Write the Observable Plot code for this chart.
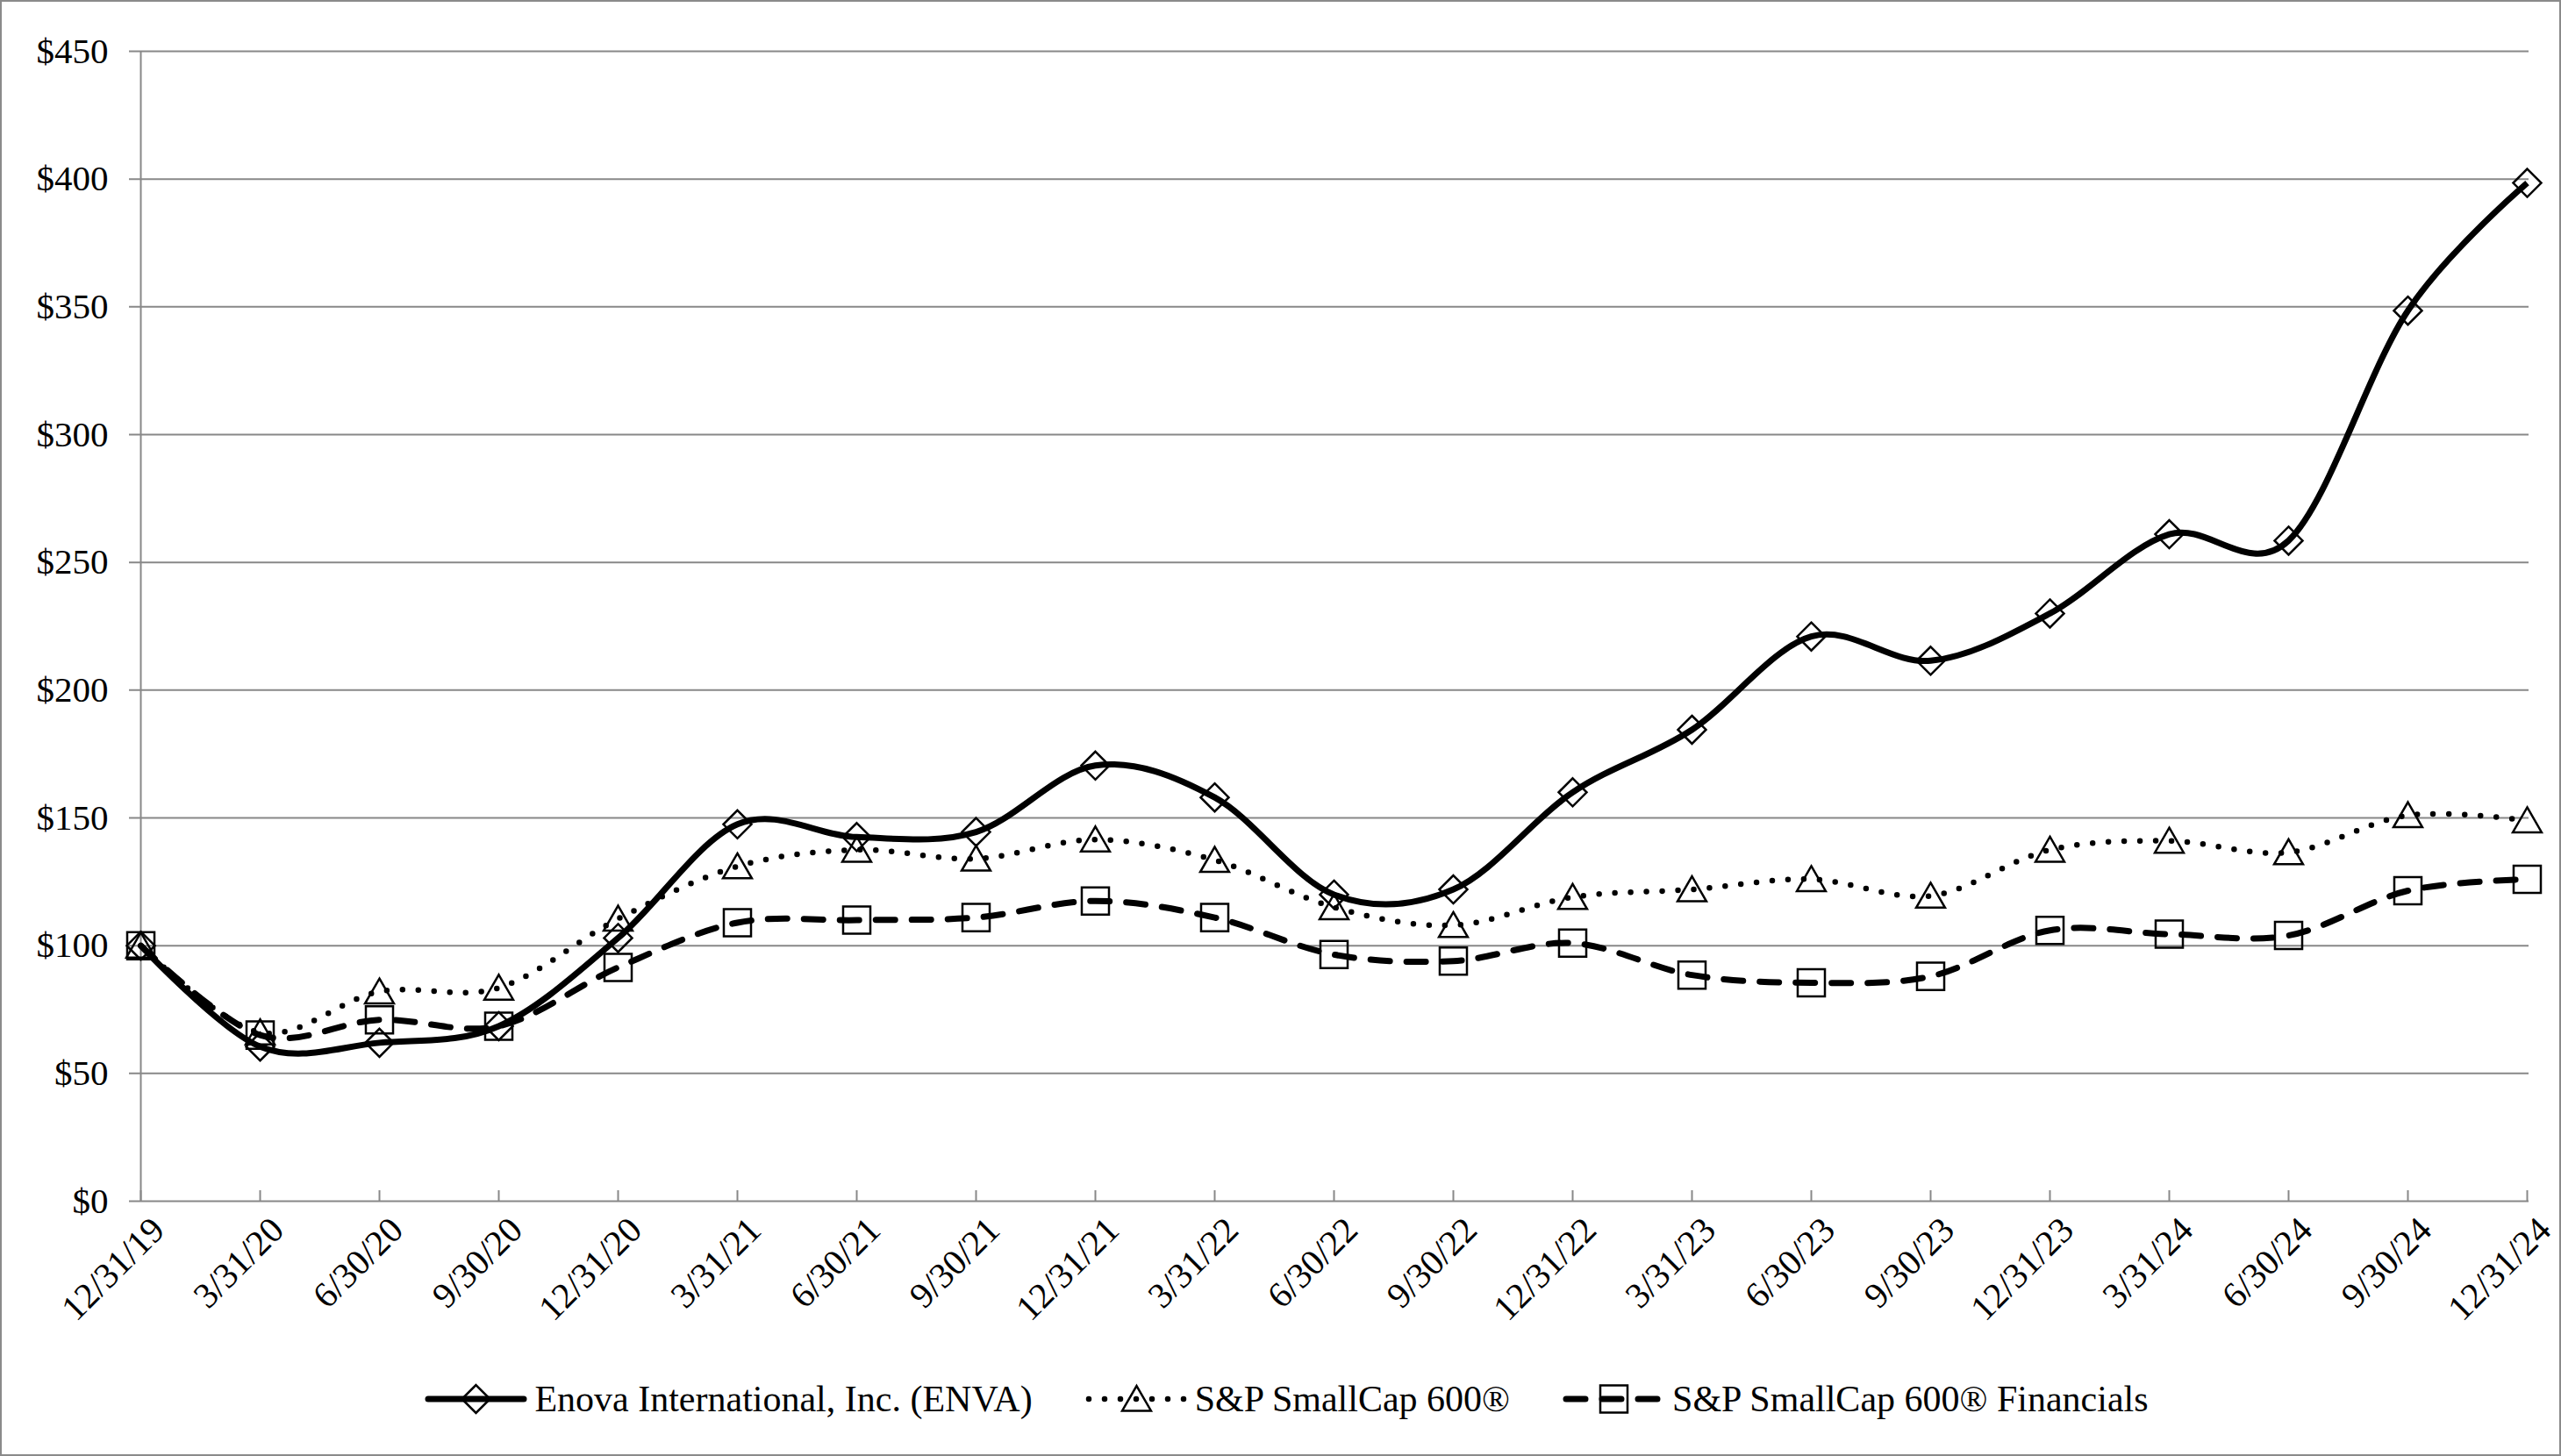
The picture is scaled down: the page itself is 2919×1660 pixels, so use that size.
<!DOCTYPE html>
<html><head><meta charset="utf-8">
<script src="https://cdn.jsdelivr.net/npm/d3@7"></script>
<script src="https://cdn.jsdelivr.net/npm/@observablehq/plot@0.6"></script>
<style>
body{margin:0;background:#fff;}
#wrap{position:relative;width:2919px;height:1660px;box-sizing:border-box;border:2px solid #8a8a8a;background:#fff;font-family:"Liberation Serif","Times New Roman",serif;overflow:hidden;}
#chart{position:absolute;left:0;top:0;}
#legend{position:absolute;left:14px;right:0;top:1563px;height:60px;display:flex;justify-content:center;align-items:center;font-size:42px;color:#000;white-space:nowrap;}
.item{display:flex;align-items:center;}
.item span{margin-left:8px;}
.item + .item{margin-left:60px;}
</style></head><body>
<div id="wrap"><div id="chart"></div><div id="legend"></div></div>
<script>
const dates = ["12/31/19","3/31/20","6/30/20","9/30/20","12/31/20","3/31/21","6/30/21","9/30/21","12/31/21","3/31/22","6/30/22","9/30/22","12/31/22","3/31/23","6/30/23","9/30/23","12/31/23","3/31/24","6/30/24","9/30/24","12/31/24"];
const enova = [100, 60.5, 62, 68.5, 103, 147.5, 142.5, 144.5, 170.5, 158, 120, 122, 160, 184.5, 221, 211.5, 230, 261, 258.5, 348.5, 398.5];
const sp600 = [100, 66, 82, 83.5, 110.5, 131, 137.5, 134, 141.5, 133.5, 115, 108, 119, 122, 126, 119.5, 137.5, 141, 136.5, 151, 149];
const spFin = [100, 65, 71, 68.5, 91.5, 109, 110, 111, 117.5, 111, 96.5, 94, 101, 88.5, 85.5, 88, 106, 104.5, 104, 121.5, 126];
const yTicks = [0, 50, 100, 150, 200, 250, 300, 350, 400, 450];
const seriesNames = ["Enova International, Inc. (ENVA)", "S&P SmallCap 600®", "S&P SmallCap 600® Financials"];

const seriesValues = [enova, sp600, spFin];
const styles = [
  {symbol: "diamond2", d3sym: d3.symbolDiamond2, r: 14.4, dash: null, cap: "butt", dy: 0, width: 7},
  {symbol: "triangle", d3sym: d3.symbolTriangle, r: 12.2, dash: "0 18", cap: "round", dy: 4, width: 6.5},
  {symbol: "square", d3sym: d3.symbolSquare, r: 17.5, dash: "22 19", cap: "round", dy: 0, width: 7}
];
const grey = "#888";

const marks = [
  Plot.ruleY(yTicks, {stroke: grey, strokeWidth: 2, insetLeft: -11}),
  Plot.ruleX([dates[0]], {stroke: grey, strokeWidth: 2}),
  Plot.ruleX(dates, {y1: 0, y2: 0, insetBottom: 12, stroke: grey, strokeWidth: 2}),
  Plot.axisY(yTicks, {tickSize: 0, tickPadding: 35, tickFormat: d => "$" + d, label: null}),
  Plot.axisX(dates, {tickSize: 0, tickRotate: -45, tickPadding: 26, dx: 20, label: null})
];
seriesValues.forEach((vals, k) => {
  const data = dates.map((d, i) => ({date: d, value: vals[i]}));
  const s = styles[k];
  marks.push(Plot.line(data, {x: "date", y: "value", curve: "cardinal", stroke: "black", strokeWidth: s.width,
    strokeDasharray: s.dash, strokeLinecap: s.cap, strokeLinejoin: "round"}));
  marks.push(Plot.dot(data, {x: "date", y: "value", symbol: s.symbol, r: s.r, fill: "none", stroke: "black", strokeWidth: 2.5, dy: s.dy}));
});

const chart = Plot.plot({
  width: 2915, height: 1540,
  marginLeft: 156, marginRight: 35, marginTop: 56, marginBottom: 173,
  x: {type: "point", domain: dates, padding: 0, axis: null, label: null},
  y: {domain: [0, 450], axis: null, label: null},
  style: {fontFamily: "'Liberation Serif','Times New Roman',serif", fontSize: "41px", color: "black", background: "white", overflow: "visible"},
  marks
});
document.getElementById("chart").appendChild(chart);

const legend = d3.select("#legend");
seriesNames.forEach((name, k) => {
  const s = styles[k];
  const item = legend.append("div").attr("class", "item");
  const svg = item.append("svg").attr("width", 117).attr("height", 44);
  svg.append("line").attr("x1", 4).attr("x2", 113).attr("y1", 22).attr("y2", 22)
    .attr("stroke", "black").attr("stroke-width", s.width)
    .attr("stroke-dasharray", s.dash).attr("stroke-linecap", k === 0 ? "round" : s.cap);
  svg.append("path").attr("transform", `translate(58.5,${22 + s.dy})`)
    .attr("d", d3.symbol(s.d3sym, Math.PI * s.r * s.r)())
    .attr("fill", "none").attr("stroke", "black").attr("stroke-width", 2.5);
  item.append("span").text(name);
});
</script>
</body></html>
